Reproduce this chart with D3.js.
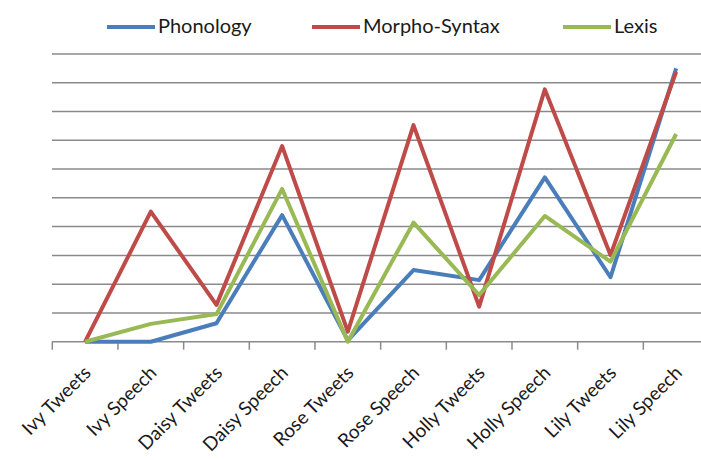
<!DOCTYPE html>
<html>
<head>
<meta charset="utf-8">
<script src="https://d3js.org/d3.v7.min.js"></script>
<style>
  body { margin: 0; background: #fff; }
  svg { display: block; }
  text { font-family: Lato, "Open Sans", sans-serif; fill: #1a1a1a; }
</style>
</head>
<body>
<div id="chart"></div>
<script>
// categories along the x axis
var categories = ["Ivy Tweets", "Ivy Speech", "Daisy Tweets", "Daisy Speech", "Rose Tweets",
                  "Rose Speech", "Holly Tweets", "Holly Speech", "Lily Tweets", "Lily Speech"];

// series values (read off the gridlines, no axis labels in the original)
var phonology    = [0, 0, 0.64, 4.40, 0.05, 2.49, 2.14, 5.71, 2.24, 9.50];
var morphoSyntax = [0, 4.52, 1.28, 6.80, 0.35, 7.53, 1.22, 8.77, 3.01, 9.38];
var lexis        = [0, 0.62, 0.96, 5.31, 0, 4.14, 1.62, 4.37, 2.78, 7.22];

var yTicks = [0, 1, 2, 3, 4, 5, 6, 7, 8, 9, 10];

var series = [
  { name: "Phonology", values: phonology, color: "#4a7ebb" },
  { name: "Morpho-Syntax", values: morphoSyntax, color: "#be4b48" },
  { name: "Lexis", values: lexis, color: "#98b954" }
];

var width = 701, height = 460;
var svg = d3.select("#chart").append("svg")
  .attr("width", width)
  .attr("height", height);

var x = d3.scaleBand().domain(categories).range([52.3, 709]);
var y = d3.scaleLinear().domain([0, 10]).range([341.7, 54]);

// horizontal gridlines
svg.append("g")
  .selectAll("line")
  .data(yTicks.slice(1))
  .enter().append("line")
    .attr("x1", 52)
    .attr("x2", 709)
    .attr("y1", function (d) { return y(d); })
    .attr("y2", function (d) { return y(d); })
    .attr("stroke", "#8a8a8a")
    .attr("stroke-width", 1.5);

// x axis with ticks between categories
var xAxis = svg.append("g")
  .attr("transform", "translate(0," + y(0) + ")");
xAxis.append("line")
  .attr("x1", 52).attr("x2", 709)
  .attr("stroke", "#8a8a8a").attr("stroke-width", 1.5);
xAxis.selectAll(".tick")
  .data(categories)
  .enter().append("line")
    .attr("x1", function (d) { return x(d); })
    .attr("x2", function (d) { return x(d); })
    .attr("y1", 0).attr("y2", 8)
    .attr("stroke", "#8a8a8a").attr("stroke-width", 1.5);

// rotated category labels
svg.append("g")
  .selectAll("text")
  .data(categories)
  .enter().append("text")
    .attr("transform", function (d) {
      return "translate(" + (x(d) + x.bandwidth() / 2 + 7) + ",374) rotate(-45)";
    })
    .attr("text-anchor", "end")
    .style("font-size", "19px")
    .text(function (d) { return d; });

// series lines
var line = d3.line()
  .x(function (d, i) { return x(categories[i]) + x.bandwidth() / 2; })
  .y(function (d) { return y(d); });

svg.append("g")
  .selectAll("path")
  .data(series)
  .enter().append("path")
    .attr("d", function (s) { return line(s.values); })
    .attr("fill", "none")
    .attr("stroke", function (s) { return s.color; })
    .attr("stroke-width", 4)
    .attr("stroke-linejoin", "round");

// legend
var legendX = [107, 312, 563];
var legend = svg.append("g")
  .selectAll("g")
  .data(series)
  .enter().append("g")
    .attr("transform", function (s, i) { return "translate(" + legendX[i] + ",27)"; });
legend.append("line")
  .attr("x1", 0).attr("x2", 48)
  .attr("stroke", function (s) { return s.color; })
  .attr("stroke-width", 4);
legend.append("text")
  .attr("x", 51)
  .attr("y", 6)
  .style("font-size", "20px")
  .text(function (s) { return s.name; });
</script>
</body>
</html>
